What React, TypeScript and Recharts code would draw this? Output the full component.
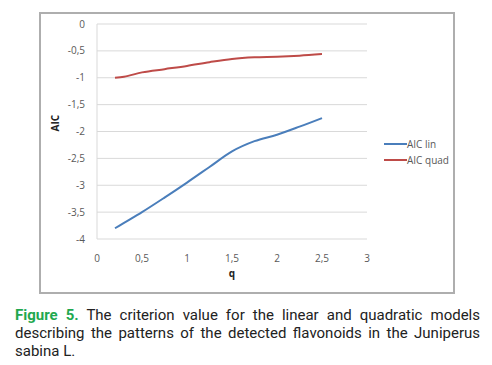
import { LineChart, Line, XAxis, YAxis, CartesianGrid, Label } from "recharts";

const qValues = [0.2, 0.3, 0.5, 0.75, 1.0, 1.25, 1.5, 1.75, 2.0, 2.25, 2.5];
const aicLin = [-3.8, -3.7, -3.5, -3.23, -2.95, -2.66, -2.37, -2.18, -2.06, -1.91, -1.75];
const aicQuad = [-1.0, -0.98, -0.9, -0.84, -0.78, -0.71, -0.65, -0.62, -0.61, -0.59, -0.56];
const xTicks = [0, 0.5, 1, 1.5, 2, 2.5, 3];
const yTicks = [0, -0.5, -1, -1.5, -2, -2.5, -3, -3.5, -4];
const seriesNames = ["AIC lin", "AIC quad"];
const seriesColors = ["#4a7ebb", "#be4b48"];

const data = qValues.map((q, i) => ({ q, lin: aicLin[i], quad: aicQuad[i] }));

const fmt = (v: number) => String(v).replace(".", ",");
const font = "'Open Sans', sans-serif";
const tickStyle = { fontSize: 10, fill: "#595959", fontFamily: font };

function LegendBox() {
  return (
    <div style={{ position: "absolute", left: 384, top: 136, fontFamily: font, fontSize: 10, color: "#595959" }}>
      {seriesNames.map((name, i) => (
        <div key={name} style={{ display: "flex", alignItems: "center", height: 16 }}>
          <div style={{ width: 23, height: 2, background: seriesColors[i] }} />
          <span>{name}</span>
        </div>
      ))}
    </div>
  );
}

export default function App() {
  return (
    <div style={{ position: "absolute", left: 0, top: 0, width: 492, height: 365, background: "#fff" }}>
      <div
        style={{
          position: "absolute",
          left: 39,
          top: 12,
          width: 412,
          height: 278,
          border: "2px solid #aeaeae",
        }}
      />
      <div style={{ position: "absolute", left: 0, top: 0 }}>
        <LineChart width={492} height={300} data={data} margin={{ top: 24, right: 125, left: 47, bottom: 21 }}>
          <CartesianGrid vertical={false} stroke="#d9d9d9" />
          <XAxis
            dataKey="q"
            type="number"
            domain={[0, 3]}
            ticks={xTicks}
            tickFormatter={fmt}
            tick={tickStyle}
            tickLine={false}
            axisLine={false}
            height={40}
            tickMargin={10}
          >
            <Label value="q" position="insideBottom" offset={2} style={{ fontSize: 10, fontWeight: "bold", fill: "#222", fontFamily: font }} />
          </XAxis>
          <YAxis
            type="number"
            domain={[-4, 0]}
            ticks={yTicks}
            tickFormatter={fmt}
            tick={tickStyle}
            tickLine={false}
            axisLine={{ stroke: "#d9d9d9" }}
            width={50}
            tickMargin={6}
          >
            <Label value="AIC" angle={-90} position="insideLeft" offset={8} style={{ fontSize: 10, fontWeight: "bold", fill: "#222", fontFamily: font }} />
          </YAxis>
          <Line type="monotone" dataKey="lin" stroke={seriesColors[0]} strokeWidth={2} dot={false} isAnimationActive={false} />
          <Line type="monotone" dataKey="quad" stroke={seriesColors[1]} strokeWidth={2} dot={false} isAnimationActive={false} />
        </LineChart>
      </div>
      <LegendBox />
      <div
        style={{
          position: "absolute",
          left: 15,
          top: 306,
          width: 465,
          fontFamily: "Roboto, sans-serif",
          fontSize: 15,
          lineHeight: "18px",
          textAlign: "justify",
          color: "#222",
        }}
      >
        <span style={{ color: "#1fa84f", fontWeight: "bold" }}>Figure 5.</span> The criterion value for the linear and
        quadratic models describing the patterns of the detected flavonoids in the Juniperus sabina L.
      </div>
    </div>
  );
}
